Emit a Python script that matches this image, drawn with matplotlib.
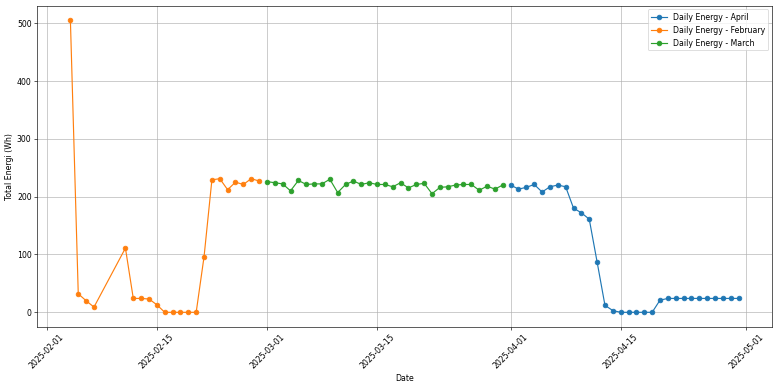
import pandas as pd
import matplotlib
matplotlib.use("Agg")
import matplotlib.pyplot as plt

# Daily energy readings (Wh)
feb_days = [4, 5, 6, 7, 11, 12, 13, 14, 15, 16, 17, 18, 19, 20, 21, 22, 23, 24, 25, 26, 27, 28]
feb_vals = [505, 32, 20, 9, 111, 24, 24, 23, 13, 0, 0, 0, 0, 0, 96, 229, 231, 212, 225, 221, 231, 227]

mar_days = list(range(1, 32))
mar_vals = [226, 224, 222, 210, 228, 221, 222, 222, 230, 207, 221, 227, 221, 224, 221,
            221, 217, 224, 215, 221, 223, 205, 216, 217, 220, 221, 221, 211, 218, 213, 220]

apr_days = list(range(1, 31))
apr_vals = [220, 213, 216, 221, 208, 217, 220, 217, 180, 172, 161, 87, 12, 3, 0,
            0, 0, 0, 0, 21, 24, 24, 24, 24, 24, 24, 24, 24, 24, 24]

series = {
    "April": (4, apr_days, apr_vals),
    "February": (2, feb_days, feb_vals),
    "March": (3, mar_days, mar_vals),
}

dpi = 56
fig, ax = plt.subplots(figsize=(777 / dpi, 386.2 / dpi), dpi=dpi)

for name, (month, days, vals) in series.items():
    dates = pd.to_datetime([f"2025-{month:02d}-{d:02d}" for d in days])
    ax.plot(dates, vals, marker="o", label=f"Daily Energy - {name}")

ax.set_xlabel("Date")
ax.set_ylabel("Total Energi (Wh)")
ax.grid(True)
ax.legend(loc="upper right")
plt.xticks(rotation=45)
plt.subplots_adjust(left=0.0476, right=0.9936, top=0.985, bottom=0.153)
plt.savefig("out.png")
